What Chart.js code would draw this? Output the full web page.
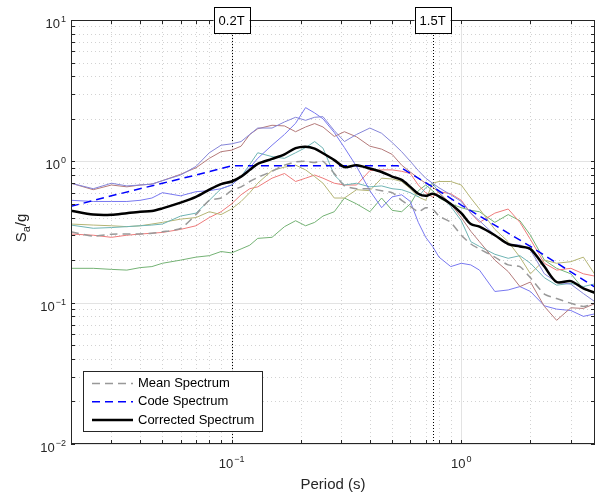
<!DOCTYPE html>
<html>
<head>
<meta charset="utf-8">
<script src="https://cdn.jsdelivr.net/npm/chart.js@4.4.1/dist/chart.umd.min.js"></script>
<style>
  body { margin: 0; background: #fff; }
  canvas { display: block; }
</style>
</head>
<body>
<canvas id="myChart" width="596" height="495"></canvas>
<script>
// ----------------------------------------------------------
// data
const periods = [0.02, 0.025, 0.03, 0.035, 0.04, 0.045, 0.05, 0.06, 0.07, 0.08, 0.09,
  0.1, 0.11, 0.12, 0.13, 0.15, 0.17, 0.19, 0.21, 0.23, 0.25, 0.28, 0.31, 0.35, 0.4,
  0.45, 0.5, 0.55, 0.6, 0.65, 0.7, 0.75, 0.8, 0.9, 1.0, 1.1, 1.2, 1.4, 1.6, 1.8, 2.0,
  2.3, 2.6, 3.0, 3.4, 3.9];

const recPurple = [0.70, 0.64, 0.70, 0.67, 0.68, 0.69, 0.73, 0.80, 0.92, 1.15, 1.30,
  1.33, 1.38, 1.55, 1.72, 1.72, 1.90, 2.05, 1.95, 2.05, 2.07, 1.65, 1.38, 1.55, 1.72,
  1.58, 1.36, 1.17, 1.00, 0.86, 0.76, 0.70, 0.65, 0.58, 0.52, 0.43, 0.38, 0.30, 0.26,
  0.256, 0.236, 0.16, 0.14, 0.135, 0.116, 0.099];
const recBrown = [0.70, 0.63, 0.68, 0.66, 0.68, 0.69, 0.73, 0.81, 0.90, 1.05, 1.17,
  1.20, 1.28, 1.55, 1.70, 1.80, 1.78, 1.62, 1.75, 1.85, 1.75, 1.50, 1.62, 1.49, 1.28,
  1.22, 1.12, 0.94, 0.84, 0.76, 0.70, 0.66, 0.60, 0.50, 0.40, 0.32, 0.27, 0.20, 0.166,
  0.13, 0.14, 0.094, 0.075, 0.092, 0.091, 0.10];
const recBlue = [0.53, 0.52, 0.52, 0.52, 0.53, 0.55, 0.60, 0.57, 0.61, 0.62, 0.64,
  0.68, 0.78, 0.90, 1.05, 1.30, 1.55, 1.86, 2.40, 2.20, 2.00, 1.60, 1.25, 0.92, 0.62,
  0.47, 0.56, 0.58, 0.52, 0.37, 0.29, 0.25, 0.21, 0.18, 0.19, 0.185, 0.17, 0.12, 0.123,
  0.13, 0.12, 0.095, 0.09, 0.088, 0.08, 0.084];
const recTeal = [0.354, 0.336, 0.34, 0.345, 0.35, 0.354, 0.36, 0.41, 0.43, 0.53, 0.64,
  0.68, 0.78, 0.95, 1.15, 1.08, 1.05, 1.15, 1.25, 1.38, 1.24, 0.80, 0.68, 0.70, 0.66,
  0.67, 0.64, 0.63, 0.60, 0.56, 0.65, 0.70, 0.60, 0.48, 0.38, 0.27, 0.25, 0.22, 0.206,
  0.215, 0.19, 0.15, 0.133, 0.137, 0.13, 0.137];
const recOlive = [0.36, 0.354, 0.35, 0.345, 0.35, 0.36, 0.37, 0.39, 0.40, 0.44, 0.42,
  0.46, 0.52, 0.60, 0.70, 0.86, 0.91, 0.94, 0.87, 0.78, 0.70, 0.55, 0.55, 0.63, 0.62,
  0.76, 0.75, 0.72, 0.64, 0.56, 0.53, 0.70, 0.72, 0.72, 0.68, 0.55, 0.46, 0.33, 0.27,
  0.21, 0.16, 0.20, 0.19, 0.195, 0.21, 0.15];
const recRed = [0.306, 0.30, 0.29, 0.30, 0.306, 0.31, 0.314, 0.33, 0.35, 0.40, 0.44,
  0.50, 0.58, 0.64, 0.66, 0.76, 0.82, 0.72, 0.76, 0.80, 0.76, 0.70, 0.68, 0.68, 0.86,
  0.87, 0.87, 0.85, 0.82, 0.68, 0.60, 0.56, 0.61, 0.59, 0.53, 0.43, 0.37, 0.43, 0.46,
  0.37, 0.28, 0.19, 0.17, 0.175, 0.16, 0.153];
const recGreen = [0.175, 0.175, 0.172, 0.17, 0.177, 0.18, 0.19, 0.20, 0.21, 0.215, 0.23,
  0.225, 0.24, 0.255, 0.285, 0.29, 0.345, 0.38, 0.35, 0.37, 0.41, 0.44, 0.55, 0.50, 0.44,
  0.55, 0.45, 0.44, 0.50, 0.62, 0.68, 0.62, 0.55, 0.50, 0.47, 0.45, 0.44, 0.37, 0.42,
  0.38, 0.30, 0.20, 0.175, 0.16, 0.125, 0.115];

const meanSa = [0.317, 0.296, 0.305, 0.306, 0.306, 0.31, 0.317, 0.335, 0.42, 0.53, 0.55,
  0.62, 0.66, 0.72, 0.77, 0.85, 0.94, 0.99, 1.00, 0.98, 1.00, 0.82, 0.67, 0.64, 0.64,
  0.62, 0.60, 0.53, 0.48, 0.44, 0.47, 0.46, 0.41, 0.37, 0.30, 0.26, 0.24, 0.21, 0.185,
  0.18, 0.15, 0.115, 0.107, 0.099, 0.094, 0.10];
const correctedSa = [0.447, 0.42, 0.418, 0.43, 0.44, 0.445, 0.465, 0.51, 0.56, 0.63, 0.69,
  0.72, 0.78, 0.87, 0.96, 1.04, 1.12, 1.24, 1.27, 1.23, 1.14, 1.02, 0.91, 0.94, 0.89,
  0.84, 0.78, 0.74, 0.66, 0.59, 0.57, 0.59, 0.565, 0.50, 0.43, 0.36, 0.345, 0.30, 0.26,
  0.25, 0.24, 0.18, 0.14, 0.142, 0.126, 0.116];

const codePeriods = [0.02, 0.03, 0.05, 0.07, 0.1, 0.53, 0.75, 1.0, 2.0, 3.9];
const codeSa = [0.48, 0.57, 0.70, 0.80, 0.93, 0.93, 0.66, 0.49, 0.25, 0.126];

const markerLines = [{ t: 0.1, label: "0.2T" }, { t: 0.75, label: "1.5T" }];
const legendNames = ["Mean Spectrum", "Code Spectrum", "Corrected Spectrum"];

// ----------------------------------------------------------
const FONT = "Liberation Sans, Arial, sans-serif";
const AXIS_COLOR = "#262626";

function toPoints(xs, ys) {
  return xs.map((t, i) => ({ x: t, y: ys[i] }));
}

function recordSet(values, color) {
  return {
    data: toPoints(periods, values),
    borderColor: color,
    borderWidth: 1,
    pointRadius: 0,
    tension: 0,
  };
}

// grid positions 1..9 x 10^n
function logSteps(lo, hi) {
  const out = [];
  for (let e = -3; e <= 2; e++) {
    for (let m = 1; m <= 9; m++) {
      const v = m * Math.pow(10, e);
      if (v >= lo * 0.999 && v <= hi * 1.001) out.push({ v, major: m === 1 });
    }
  }
  return out;
}

// "10" with a raised exponent
function drawPower(ctx, exp, x, y, align) {
  ctx.font = "13px " + FONT;
  const wBase = ctx.measureText("10").width;
  ctx.font = "9px " + FONT;
  const expText = String(exp).replace("-", "\u2212");
  const wExp = ctx.measureText(expText).width;
  const total = wBase + wExp + 1;
  let left = x;
  if (align === "right") left = x - total;
  if (align === "center") left = x - total / 2;
  ctx.textAlign = "left";
  ctx.textBaseline = "alphabetic";
  ctx.font = "13px " + FONT;
  ctx.fillText("10", left, y);
  ctx.font = "9px " + FONT;
  ctx.fillText(expText, left + wBase + 1, y - 6);
}

// ----------------------------------------------------------
const plotDecor = {
  id: "plotDecor",
  beforeDatasetsDraw(chart) {
    const { ctx, chartArea: a, scales } = chart;
    const xs = scales.x, ys = scales.y;
    ctx.save();
    // minor grid (dotted) then major grid (solid)
    const xSteps = logSteps(xs.min, xs.max);
    const ySteps = logSteps(ys.min, ys.max);
    ctx.lineWidth = 1;
    ctx.strokeStyle = "#d2d2d2";
    ctx.setLineDash([1, 3]);
    xSteps.filter((s) => !s.major).forEach((s) => {
      const px = Math.round(xs.getPixelForValue(s.v)) + 0.5;
      ctx.beginPath(); ctx.moveTo(px, a.top); ctx.lineTo(px, a.bottom); ctx.stroke();
    });
    ySteps.filter((s) => !s.major).forEach((s) => {
      const py = Math.round(ys.getPixelForValue(s.v)) + 0.5;
      ctx.beginPath(); ctx.moveTo(a.left, py); ctx.lineTo(a.right, py); ctx.stroke();
    });
    ctx.setLineDash([]);
    ctx.strokeStyle = "#e3e3e3";
    xSteps.filter((s) => s.major).forEach((s) => {
      const px = Math.round(xs.getPixelForValue(s.v)) + 0.5;
      ctx.beginPath(); ctx.moveTo(px, a.top); ctx.lineTo(px, a.bottom); ctx.stroke();
    });
    ySteps.filter((s) => s.major).forEach((s) => {
      const py = Math.round(ys.getPixelForValue(s.v)) + 0.5;
      ctx.beginPath(); ctx.moveTo(a.left, py); ctx.lineTo(a.right, py); ctx.stroke();
    });
    // 0.2T / 1.5T dotted markers
    ctx.strokeStyle = "#000";
    ctx.setLineDash([1, 2]);
    markerLines.forEach((m) => {
      const px = Math.round(xs.getPixelForValue(m.t)) + 0.5;
      ctx.beginPath(); ctx.moveTo(px, a.top); ctx.lineTo(px, a.bottom); ctx.stroke();
    });
    ctx.restore();
  },
  afterDatasetsDraw(chart) {
    const { ctx, chartArea: a, scales } = chart;
    const xs = scales.x, ys = scales.y;
    ctx.save();
    // axes box
    ctx.strokeStyle = AXIS_COLOR;
    ctx.lineWidth = 1;
    ctx.strokeRect(a.left + 0.5, a.top + 0.5, a.right - a.left - 1, a.bottom - a.top - 1);
    // ticks inside on all four sides
    const tl = 4;
    logSteps(xs.min, xs.max).forEach((s) => {
      const px = Math.round(xs.getPixelForValue(s.v)) + 0.5;
      ctx.beginPath();
      ctx.moveTo(px, a.bottom); ctx.lineTo(px, a.bottom - tl);
      ctx.moveTo(px, a.top); ctx.lineTo(px, a.top + tl);
      ctx.stroke();
    });
    logSteps(ys.min, ys.max).forEach((s) => {
      const py = Math.round(ys.getPixelForValue(s.v)) + 0.5;
      ctx.beginPath();
      ctx.moveTo(a.left, py); ctx.lineTo(a.left + tl, py);
      ctx.moveTo(a.right, py); ctx.lineTo(a.right - tl, py);
      ctx.stroke();
    });
    // tick labels
    ctx.fillStyle = AXIS_COLOR;
    [-1, 0].forEach((e) => {
      drawPower(ctx, e, xs.getPixelForValue(Math.pow(10, e)), a.bottom + 24, "center");
    });
    [-2, -1, 0, 1].forEach((e) => {
      drawPower(ctx, e, a.left - 5, ys.getPixelForValue(Math.pow(10, e)) + 8, "right");
    });
    // axis titles
    ctx.font = "15px " + FONT;
    ctx.textAlign = "center";
    ctx.textBaseline = "alphabetic";
    ctx.fillText("Period (s)", (a.left + a.right) / 2, 489);
    ctx.save();
    ctx.translate(26, 228);
    ctx.rotate(-Math.PI / 2);
    ctx.textAlign = "left";
    ctx.font = "15px " + FONT;
    const wS = ctx.measureText("S").width;
    ctx.font = "11px " + FONT;
    const wA = ctx.measureText("a").width;
    ctx.font = "15px " + FONT;
    const wG = ctx.measureText("/g").width;
    const start = -(wS + wA + wG) / 2;
    ctx.fillText("S", start, 0);
    ctx.font = "11px " + FONT;
    ctx.fillText("a", start + wS, 4);
    ctx.font = "15px " + FONT;
    ctx.fillText("/g", start + wS + wA, 0);
    ctx.restore();
    // marker label boxes
    markerLines.forEach((m) => {
      const px = xs.getPixelForValue(m.t);
      ctx.fillStyle = "#fff";
      ctx.fillRect(px - 18, 7, 36, 26);
      ctx.strokeStyle = "#000";
      ctx.strokeRect(Math.round(px - 18) + 0.5, 7.5, 36, 26);
      ctx.fillStyle = "#000";
      ctx.font = "13px " + FONT;
      ctx.textAlign = "center";
      ctx.textBaseline = "middle";
      ctx.fillText(m.label, px, 21);
    });
    // legend
    const lx = 83, ly = 371, lw = 179, lh = 60;
    ctx.fillStyle = "#fff";
    ctx.fillRect(lx, ly, lw, lh);
    ctx.strokeStyle = AXIS_COLOR;
    ctx.lineWidth = 1;
    ctx.strokeRect(lx + 0.5, ly + 0.5, lw, lh);
    const styles = [
      { color: "#999999", width: 1.5, dash: [8, 5] },
      { color: "#0000ff", width: 1.5, dash: [8, 5] },
      { color: "#000000", width: 2.5, dash: [] },
    ];
    legendNames.forEach((name, i) => {
      const yy = 383.5 + i * 18.3;
      ctx.strokeStyle = styles[i].color;
      ctx.lineWidth = styles[i].width;
      ctx.setLineDash(styles[i].dash);
      ctx.beginPath(); ctx.moveTo(92, yy); ctx.lineTo(133, yy); ctx.stroke();
      ctx.setLineDash([]);
      ctx.fillStyle = "#000";
      ctx.font = "13px " + FONT;
      ctx.textAlign = "left";
      ctx.textBaseline = "middle";
      ctx.fillText(name, 138, yy);
    });
    ctx.restore();
  },
};

// ----------------------------------------------------------
const datasets = [
  {
    data: toPoints(periods, correctedSa),
    borderColor: "#000",
    borderWidth: 2.5,
    pointRadius: 0,
    tension: 0.3,
  },
  {
    data: toPoints(codePeriods, codeSa),
    borderColor: "#0000ff",
    borderWidth: 1.5,
    borderDash: [8, 5],
    pointRadius: 0,
  },
  {
    data: toPoints(periods, meanSa),
    borderColor: "#999999",
    borderWidth: 1.5,
    borderDash: [8, 5],
    pointRadius: 0,
    tension: 0.2,
  },
  recordSet(recPurple, "#8585d8"),
  recordSet(recBrown, "#b47a7a"),
  recordSet(recBlue, "#7878f0"),
  recordSet(recTeal, "#6fb4b4"),
  recordSet(recOlive, "#b4b474"),
  recordSet(recRed, "#ee7b7b"),
  recordSet(recGreen, "#74b274"),
];

const theChart = new Chart(document.getElementById("myChart"), {
  type: "line",
  data: { datasets },
  options: {
    responsive: false,
    animation: false,
    layout: { padding: { left: 71, right: 1, top: 20, bottom: 51 } },
    plugins: { legend: { display: false }, tooltip: { enabled: false } },
    scales: {
      x: { type: "logarithmic", min: 0.02, max: 3.82, display: false },
      y: { type: "logarithmic", min: 0.01, max: 10, display: false },
    },
  },
  plugins: [plotDecor],
});
</script>
</body>
</html>
